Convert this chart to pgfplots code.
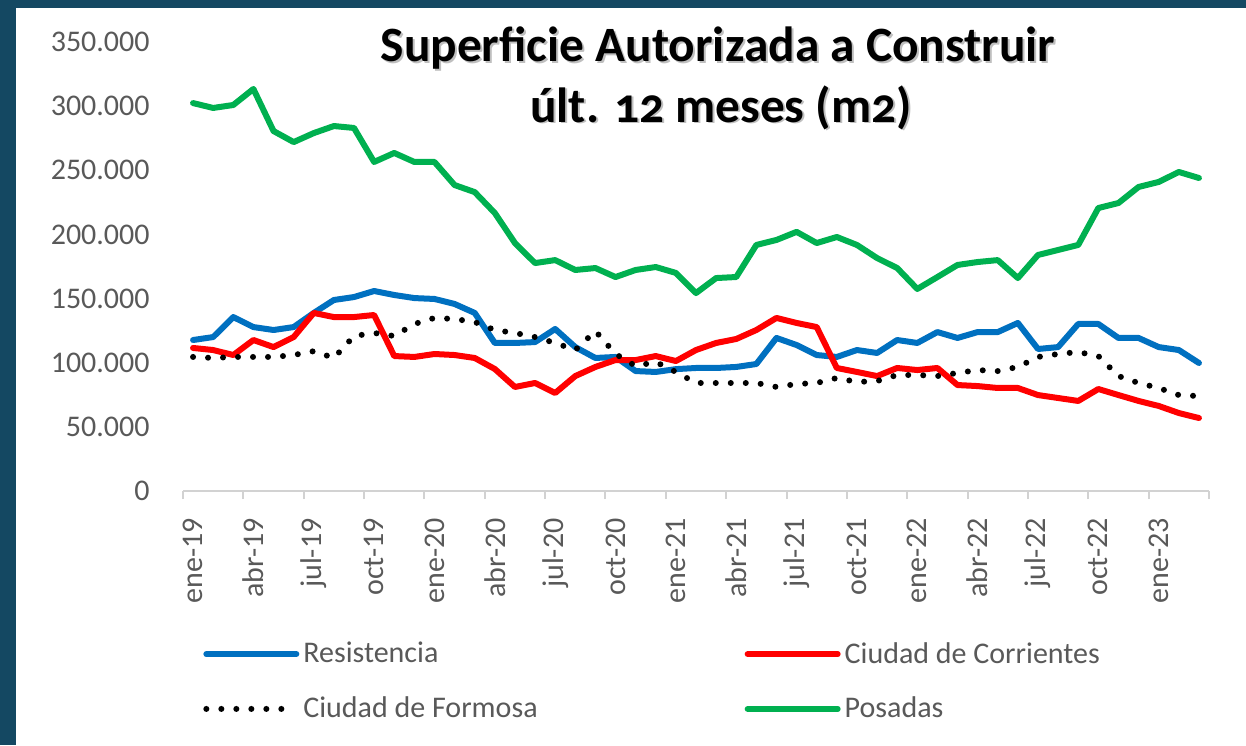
\documentclass[border=0pt]{standalone}
\usepackage{pgfplots}
\pgfplotsset{compat=1.18}
\usepackage{pgfplotstable}
\usepackage{fontspec}
\setmainfont{Carlito}
\newfontfamily\titlefont[Numbers=OldStyle]{Carlito}

\definecolor{frame}{RGB}{20,72,98}
\definecolor{ticktext}{RGB}{89,89,89}
\definecolor{axisgray}{RGB}{210,210,210}
\definecolor{resist}{RGB}{0,112,192}
\definecolor{corr}{RGB}{255,0,0}
\definecolor{posadas}{RGB}{0,176,80}

% meses: 0 = ene-19 ... 50 = mar-23
\pgfplotstableread{
x y
0 117700
1 120000
2 135600
3 127800
4 125500
5 127800
6 138800
7 148900
8 151200
9 155900
10 152800
11 150400
12 149700
13 145800
14 138800
15 115400
16 115400
17 116100
18 126300
19 112200
20 103700
21 104500
22 93500
23 92800
24 95000
25 95900
26 95900
27 96700
28 99000
29 119300
30 113800
31 106000
32 104500
33 109900
34 107600
35 117700
36 115400
37 123900
38 119300
39 123900
40 123900
41 131000
42 110700
43 112200
44 130200
45 130200
46 119300
47 119300
48 112200
49 109900
50 99800
}\resistencia

\pgfplotstableread{
x y
0 111500
1 109900
2 106000
3 117700
4 112200
5 120000
6 138800
7 135600
8 135600
9 137200
10 105200
11 104500
12 106800
13 106000
14 103700
15 95100
16 81100
17 84200
18 76400
19 89600
20 96700
21 102100
22 102100
23 105200
24 101300
25 109900
26 115400
27 118500
28 125500
29 134900
30 131000
31 127800
32 95900
33 92800
34 89600
35 95900
36 94300
37 95900
38 82600
39 81800
40 80300
41 80300
42 74800
43 72500
44 70200
45 79500
46 74800
47 70200
48 66300
49 60800
50 56900
}\corrientes

\pgfplotstableread{
x y
0 104500
1 103700
2 104500
3 104500
4 104500
5 106000
6 109000
7 103700
8 120800
9 123200
10 120800
11 130200
12 134900
13 134100
14 131700
15 125500
16 123200
17 120000
18 115400
19 109900
20 124700
21 106800
22 97400
23 100600
24 92800
25 84200
26 84200
27 84200
28 84200
29 81100
30 83400
31 84200
32 88100
33 85000
34 85700
35 90400
36 90400
37 89600
38 92000
39 94300
40 93500
41 96700
42 104500
43 106800
44 108300
45 105200
46 89600
47 84200
48 80300
49 74800
50 74000
}\formosa

\pgfplotstableread{
x y
0 302400
1 298600
2 300900
3 313400
4 280600
5 272000
6 279000
7 284500
8 283000
9 256500
10 263500
11 256500
12 256500
13 238500
14 233000
15 216700
16 193300
17 177700
18 180000
19 172300
20 173800
21 166800
22 172300
23 174600
24 170000
25 154300
26 166000
27 166800
28 191800
29 195700
30 202000
31 193300
32 198000
33 191800
34 181600
35 173800
36 157500
37 166800
38 176200
39 178500
40 180000
41 166000
42 184000
43 187900
44 191800
45 220600
46 224500
47 237000
48 240900
49 248700
50 244000
}\posadas

\begin{document}
\begin{tikzpicture}
\path[use as bounding box, fill=frame] (-91.5pt,-127pt) rectangle (531.5pt,245.5pt);
\fill[white] (-83.5pt,-127pt) rectangle (531.5pt,241.5pt);

\begin{axis}[
  at={(0pt,0pt)}, anchor=south west,
  scale only axis, width=513pt, height=224.5pt,
  xmin=-0.5, xmax=50.5, ymin=0, ymax=350000,
  axis x line*=bottom, axis y line*=left,
  x axis line style={draw=axisgray, line width=1pt, -},
  y axis line style={draw=none},
  tick align=outside,
  major tick length=4pt,
  xtick={-0.5,2.5,...,50.5},
  xticklabel={\mbox{}},
  xtick style={draw=axisgray, line width=1pt},
  extra x ticks={0,3,...,48},
  extra x tick labels={ene-19,abr-19,jul-19,oct-19,ene-20,abr-20,jul-20,oct-20,ene-21,abr-21,jul-21,oct-21,ene-22,abr-22,jul-22,oct-22,ene-23},
  extra x tick style={major tick length=0pt},
  ytick={0,50000,...,350000},
  ytick style={draw=none},
  scaled y ticks=false,
  yticklabel={\pgfmathprintnumber[fixed, precision=0, 1000 sep={.}, assume math mode=true]{\tick}},
  ticklabel style={font=\fontsize{15}{18}\selectfont, text=ticktext},
  xticklabel style={inner sep=0pt, yshift=-13.5pt, rotate=90, anchor=east},
  yticklabel style={inner sep=0pt, anchor=east, xshift=-12.5pt},
  legend columns=2,
  legend cell align=left,
  legend style={draw=none, fill=none, at={(0.0136,-0.318)}, anchor=north west,
    font=\fontsize{15}{18}\selectfont, text=ticktext, row sep=11.5pt,
    /tikz/every even column/.append style={column sep=101.5pt}},
  legend image code/.code={\draw[#1] (0pt,0pt) -- (45pt,0pt);},
  every axis plot/.append style={line width=3pt, line join=round},
]
\addplot[resist, line cap=round] table[x=x, y=y] {\resistencia};
\addlegendentry{Resistencia}
\addplot[corr, line cap=round] table[x=x, y=y] {\corrientes};
\addlegendentry{Ciudad de Corrientes}
\addplot[black, line cap=round, dash pattern=on 0pt off 7.5pt] table[x=x, y=y] {\formosa};
\addlegendentry{Ciudad de Formosa}
\addplot[posadas, line cap=round] table[x=x, y=y] {\posadas};
\addlegendentry{Posadas}
\end{axis}

\begin{scope}[font=\titlefont\bfseries\fontsize{24.7}{29}\selectfont]
\node[anchor=base, text=black!25] at (268.5pt,213.5pt) {Superficie Autorizada a Construir};
\node[anchor=base] at (267.5pt,214.5pt) {Superficie Autorizada a Construir};
\node[anchor=base, text=black!25] at (270pt,183.5pt) {últ. 12 meses (m2)};
\node[anchor=base] at (269pt,184.5pt) {últ. 12 meses (m2)};
\end{scope}
\end{tikzpicture}
\end{document}
